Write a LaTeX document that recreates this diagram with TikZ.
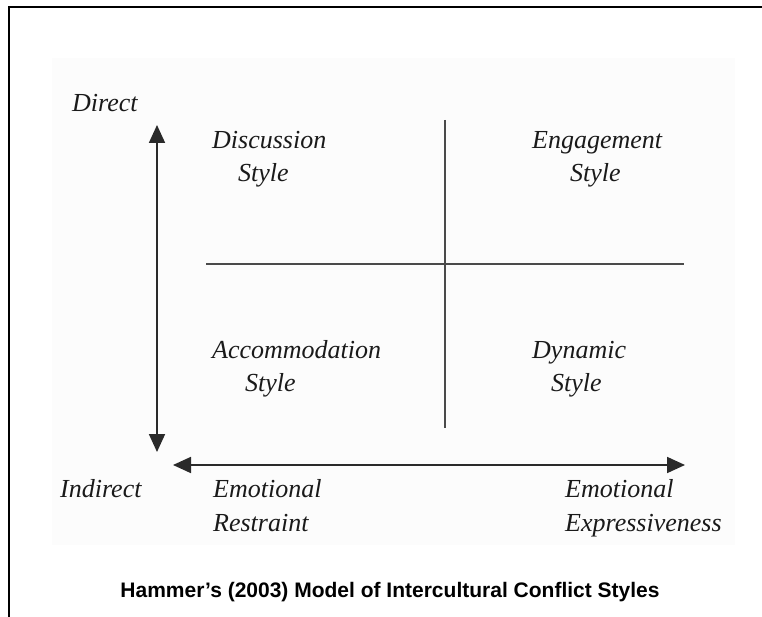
\documentclass[tikz,border=0pt]{standalone}
\usepackage{fontspec}
\setmainfont{Liberation Serif}
\newfontfamily\capfont{Liberation Sans}
\usetikzlibrary{arrows.meta}
\definecolor{inkc}{HTML}{1A1A1A}
\definecolor{linec}{HTML}{2A2A2A}
\definecolor{divc}{HTML}{4A4A4A}
\definecolor{bgc}{HTML}{FCFCFC}
\tikzset{
  lbl/.style={anchor=base west, inner sep=0pt, text=inkc, font=\fontsize{26}{30}\selectfont\itshape},
  axisarrow/.style={draw=linec, line width=1.8pt, {Triangle[length=18pt,width=16pt]}-{Triangle[length=18pt,width=16pt]}},
  divider/.style={draw=divc, line width=1.6pt},
  frameline/.style={draw=black, line width=2pt},
  caption/.style={anchor=base, inner sep=0pt, font=\capfont\bfseries\fontsize{21}{24}\selectfont}
}
\begin{document}
\begin{tikzpicture}[x=1pt,y=-1pt]
\useasboundingbox (0,0) rectangle (762,617);
% faint scanned background
\fill[bgc] (52,58) rectangle (735,545);
% frame
\coordinate (ftl) at (9,7);
\coordinate (ftr) at (762,7);
\coordinate (fbl) at (9,617);
\draw[frameline] (ftr) -- (ftl) -- (fbl);
% dividers
\coordinate (dvt) at (445,120);
\coordinate (dvb) at (445,428);
\coordinate (dhl) at (206,264);
\coordinate (dhr) at (684,264);
\draw[divider] (dvt) -- (dvb);
\draw[divider] (dhl) -- (dhr);
% axes
\coordinate (vtop) at (157,125);
\coordinate (vbot) at (157,452);
\coordinate (hl) at (173,465);
\coordinate (hr) at (685,465);
\draw[axisarrow] (vtop) -- (vbot);
\draw[axisarrow] (hl) -- (hr);
% axis labels
\node[lbl] (direct) at (72,112) {Direct};
\node[lbl] (indirect) at (60,497) {Indirect};
\node[lbl] (er1) at (213,497) {Emotional};
\node[lbl] (er2) at (213,531) {Restraint};
\node[lbl] (ee1) at (565,497) {Emotional};
\node[lbl] (ee2) at (565,531) {Expressiveness};
% quadrant labels
\node[lbl] (disc1) at (212,149) {Discussion};
\node[lbl] (disc2) at (238,182) {Style};
\node[lbl] (eng1) at (532,149) {Engagement};
\node[lbl] (eng2) at (570,182) {Style};
\node[lbl] (acc1) at (212,358) {Accommodation};
\node[lbl] (acc2) at (245,391) {Style};
\node[lbl] (dyn1) at (532,358) {Dynamic};
\node[lbl] (dyn2) at (551,391) {Style};
% caption
\node[caption] (cap) at (390,597) {Hammer’s (2003) Model of Intercultural Conflict Styles};
\end{tikzpicture}
\end{document}
